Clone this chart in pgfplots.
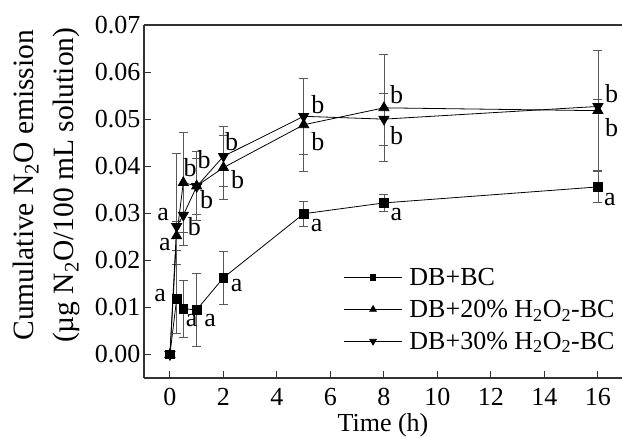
\documentclass[border=0pt]{standalone}
\usepackage{fontspec}
\setmainfont{Liberation Serif}
\usepackage{pgfplots}
\pgfplotsset{compat=1.18}

\pgfplotstableread{
x y e
0 0 0
0.25 0.0118 0.0074
0.5 0.0097 0.0060
1 0.0095 0.0077
2 0.0163 0.0057
5 0.0299 0.0026
8 0.0322 0.0018
16 0.0356 0.0033
}\dbbc
\pgfplotstableread{
x y e
0 0 0
0.25 0.0252 0.0030
0.5 0.0365 0.0106
1 0.0358 0.0074
2 0.0397 0.0068
5 0.0488 0.0098
8 0.0524 0.0114
16 0.0518 0.0127
}\dbtwenty
\pgfplotstableread{
x y e
0 0 0
0.25 0.0272 0.0155
0.5 0.0296 0.0065
1 0.0357 0.0060
2 0.0421 0.0064
5 0.0506 0.0080
8 0.0500 0.0055
16 0.0527 0.0015
}\dbthirty

\begin{document}
\begin{tikzpicture}[font=\fontsize{26}{31}\selectfont]
\begin{axis}[
  scale only axis, width=478pt, height=353pt,
  xmin=-0.97, xmax=16.9, ymin=-0.005, ymax=0.07,
  axis x line*=bottom, axis y line*=left,
  axis line style={line width=1.2pt, black!80},
  tick align=inside, major tick length=7pt,
  tick style={line width=1pt, black!80},
  xtick={0,2,4,6,8,10,12,14,16},
  ytick={0,0.01,0.02,0.03,0.04,0.05,0.06,0.07},
  scaled y ticks=false,
  yticklabel style={/pgf/number format/fixed, /pgf/number format/fixed zerofill, /pgf/number format/precision=2},
  xticklabel style={inner sep=0pt, yshift=-10pt},
  /pgf/number format/assume math mode=true,
  xlabel={Time (h)},
  xlabel style={at={(axis description cs:0.5,0)}, anchor=north, inner sep=0pt, yshift=-35pt},
  ylabel={Cumulative N\textsubscript{2}O emission\\(µg N\textsubscript{2}O/100 mL solution)},
  ylabel style={align=center, font=\fontsize{29.5}{40}\selectfont, inner sep=0pt,
    at={([xshift=-64pt]axis description cs:0,0.546)}, anchor=south, rotate=0},
  legend style={draw=none, fill=none, at={(axis cs:6.375,0.0192)}, anchor=north west, row sep=9pt,
    /tikz/every odd column/.append style={column sep=5pt}},
  legend cell align=left,
  legend image code/.code={\draw[mark repeat=2, mark phase=2, #1, every mark/.append style={scale=0.65}] plot coordinates {(0pt,0pt) (29pt,0pt) (58pt,0pt)};},
  error bars/y dir=both, error bars/y explicit,
  error bars/error bar style={line width=0.8pt, black!65},
  error bars/error mark options={rotate=90, mark size=4.5pt, line width=0.8pt, black!65},
]
\addplot[black, line width=0.8pt, mark=square*, mark size=4.3pt]
  table[x=x, y=y, y error=e]{\dbbc};
\addlegendentry{DB+BC}
\addplot[black, line width=0.8pt, mark=triangle*, mark size=5.8pt]
  table[x=x, y=y, y error=e]{\dbtwenty};
\addlegendentry{DB+20\% H\textsubscript{2}O\textsubscript{2}-BC}
\addplot[black, line width=0.8pt, mark=triangle*, mark size=5.8pt, mark options={rotate=180}]
  table[x=x, y=y, y error=e]{\dbthirty};
\addlegendentry{DB+30\% H\textsubscript{2}O\textsubscript{2}-BC}

\draw[line width=1.2pt, black!80] (rel axis cs:0,1) -- (rel axis cs:1,1);
\coordinate (bl) at (rel axis cs:0,0);
\coordinate (tr) at (rel axis cs:1,1);

% significance letters
\node at (axis cs:-0.37,0.0125) {a};
\node at (axis cs:0.81,0.0073) {a};
\node at (axis cs:1.5,0.0073) {a};
\node at (axis cs:2.49,0.0147) {a};
\node at (axis cs:5.48,0.0275) {a};
\node at (axis cs:8.47,0.0298) {a};
\node at (axis cs:16.45,0.0330) {a};
\node at (axis cs:-0.19,0.0233) {a};
\node at (axis cs:-0.25,0.0298) {a};
\node at (axis cs:0.75,0.0397) {b};
\node at (axis cs:0.91,0.0272) {b};
\node at (axis cs:1.37,0.0330) {b};
\node at (axis cs:1.28,0.0413) {b};
\node at (axis cs:2.31,0.0453) {b};
\node at (axis cs:2.53,0.0372) {b};
\node at (axis cs:5.53,0.0531) {b};
\node at (axis cs:5.53,0.0453) {b};
\node at (axis cs:8.47,0.0552) {b};
\node at (axis cs:8.47,0.0464) {b};
\node at (axis cs:16.51,0.0555) {b};
\node at (axis cs:16.51,0.0481) {b};
\end{axis}
\pgfresetboundingbox
\path[use as bounding box] ([xshift=-144pt,yshift=-60pt]bl) rectangle ([yshift=25pt]tr);
\end{tikzpicture}
\end{document}
